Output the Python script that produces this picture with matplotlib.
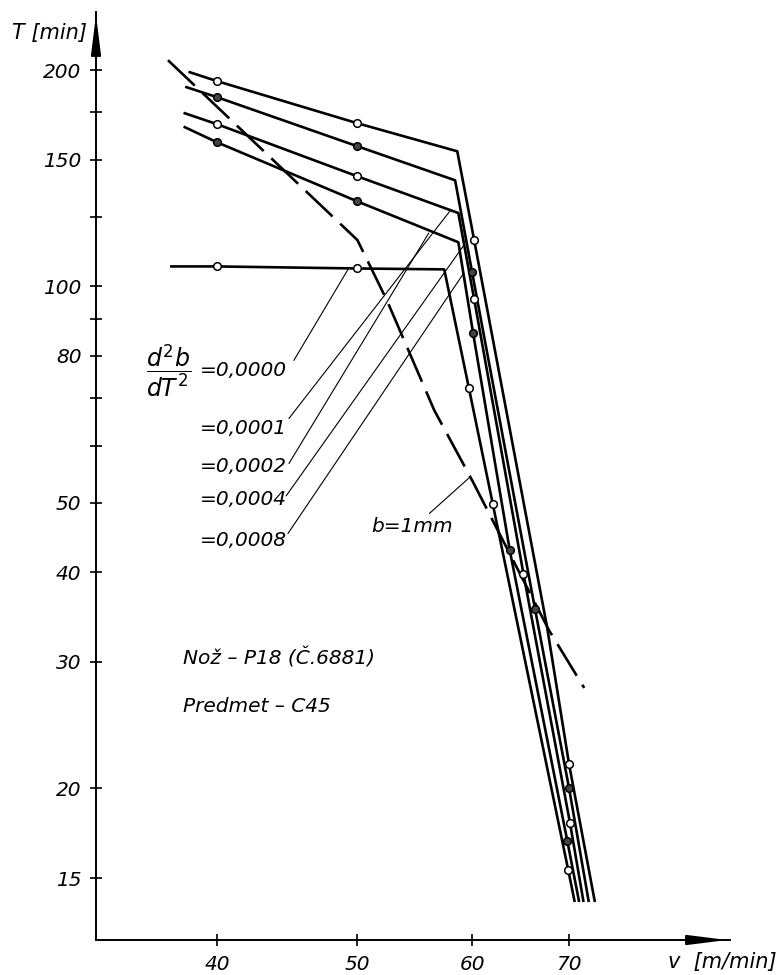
import matplotlib
matplotlib.use("Agg")
import matplotlib.pyplot as plt
from matplotlib.ticker import FixedLocator, NullLocator, NullFormatter, FixedFormatter

plt.rcParams['font.family'] = ['DejaVu Sans']
plt.rcParams['mathtext.fontset'] = 'dejavusans'

# ---------------- data (v [m/min], T [min]) ----------------
v_l1 = [38.3, 40, 50, 58.6, 60.2, 67.6, 70, 72.9]
T_l1 = [198.7, 193.1, 168.7, 154.2, 115.9, 33.5, 21.6, 13.95]
m_l1 = [1, 2, 4, 6]

v_l2 = [38.1, 40, 50, 58.4, 60.0, 66.3, 70, 72.2]
T_l2 = [189.4, 183.4, 156.7, 140.5, 104.6, 35.6, 20.0, 13.95]
m_l2 = [1, 2, 4, 5, 6]

v_l3 = [38.0, 40, 50, 58.7, 60.2, 65.1, 70.1, 71.6]
T_l3 = [174.2, 168.2, 142.3, 126.5, 95.9, 39.8, 17.9, 13.95]
m_l3 = [1, 2, 4, 5, 6]

v_l4 = [38.0, 40, 50, 58.7, 60.1, 63.7, 69.8, 71.1]
T_l4 = [166.6, 158.7, 131.3, 115.2, 86.0, 42.9, 16.9, 13.95]
m_l4 = [1, 2, 4, 5, 6]

v_l5 = [37.2, 40, 50, 57.4, 59.7, 62.0, 69.9, 70.6]
T_l5 = [106.6, 106.6, 105.9, 105.6, 72.1, 49.8, 15.4, 13.95]
m_l5 = [1, 2, 4, 5, 6]

# dashed curve b = 1 mm
v_b = [37.0, 50.0, 52.4, 56.5, 60.0, 67.8, 71.7]
T_b = [206.5, 116.0, 95.6, 67.2, 53.7, 33.2, 27.6]

y_ticks = [200, 150, 100, 80, 50, 40, 30, 20, 15]
y_minor = [175, 125, 90, 70, 60]
x_ticks = [40, 50, 60, 70]

labels = ["=0,0000", "=0,0001", "=0,0002", "=0,0004", "=0,0008"]
# leader lines: (v_start, T_start, v_end, T_end)
leaders = [
    (45.2, 78.9, 49.3, 105.9),
    (44.85, 65.5, 57.9, 127.2),
    (44.85, 56.7, 56.0, 118.6),
    (44.65, 51.1, 59.2, 114.0),
    (44.78, 45.3, 59.2, 104.3),
]
b_leader = (56.07, 48.3, 59.76, 54.2)

# ---------------- figure ----------------
W, H = 782, 975
fig = plt.figure(figsize=(W / 100, H / 100), dpi=100)
x0, x1, y0, y1 = 96, 730, 12, 940
ax = fig.add_axes([x0 / W, 1 - y1 / H, (x1 - x0) / W, (y1 - y0) / H])
ax.set_xscale('log')
ax.set_yscale('log')
ax.set_xlim(33.0, 90.4)
ax.set_ylim(12.3, 241)

for s in ['top', 'right']:
    ax.spines[s].set_visible(False)
for s in ['left', 'bottom']:
    ax.spines[s].set_linewidth(1.4)

ax.yaxis.set_major_locator(FixedLocator(y_ticks))
ax.yaxis.set_major_formatter(FixedFormatter([str(t) for t in y_ticks]))
ax.yaxis.set_minor_locator(FixedLocator(y_minor))
ax.yaxis.set_minor_formatter(NullFormatter())
ax.xaxis.set_major_locator(FixedLocator(x_ticks))
ax.xaxis.set_major_formatter(FixedFormatter([str(t) for t in x_ticks]))
ax.xaxis.set_minor_locator(NullLocator())
ax.tick_params(which='both', direction='inout', length=9, width=1.2)
ax.tick_params(axis='y', labelsize=14.5, pad=6)
ax.tick_params(axis='x', labelsize=14.5, pad=6)
for lab in ax.get_xticklabels() + ax.get_yticklabels():
    lab.set_fontstyle('italic')

# axis arrows
ax.annotate('', xy=(0, 1.0), xytext=(0, 0.965), xycoords='axes fraction',
            arrowprops=dict(arrowstyle='-|>,head_length=2.4,head_width=0.3',
                            color='k', lw=1.4, mutation_scale=10), annotation_clip=False)
ax.annotate('', xy=(1.0, 0), xytext=(0.95, 0), xycoords='axes fraction',
            arrowprops=dict(arrowstyle='-|>,head_length=2.4,head_width=0.3',
                            color='k', lw=1.4, mutation_scale=10), annotation_clip=False)

# curves
series = [(v_l1, T_l1, m_l1, 'white'), (v_l2, T_l2, m_l2, '#444444'),
          (v_l3, T_l3, m_l3, 'white'), (v_l4, T_l4, m_l4, '#444444'),
          (v_l5, T_l5, m_l5, 'white')]
for v, T, m, fc in series:
    ax.plot(v, T, color='k', lw=1.9, solid_joinstyle='round', zorder=3)
    ax.plot([v[i] for i in m], [T[i] for i in m], 'o', ms=5.5, mfc=fc, mec='k',
            mew=1.1, zorder=4)

ax.plot(v_b, T_b, color='k', lw=1.9, dashes=(14, 4), zorder=3)

# leader lines
for (va, Ta, vb, Tb) in leaders:
    ax.plot([va, vb], [Ta, Tb], color='k', lw=0.8, zorder=2)
ax.plot([b_leader[0], b_leader[2]], [b_leader[1], b_leader[3]], color='k', lw=0.8, zorder=2)

def ftext(x, y, s, **kw):
    fig.text(x / W, 1 - y / H, s, **kw)

# axis titles
ftext(12, 33, "T [min]", fontsize=15, style='italic', va='center', ha='left')
ftext(668, 962, "v  [m/min]", fontsize=15, style='italic', va='center', ha='left')

# labels of curves
ftext(169, 371, r"$\dfrac{d^2b}{dT^2}$", fontsize=17, va='center', ha='center')
label_y = [370, 428, 466, 500, 540]
for lab, yy in zip(labels, label_y):
    ftext(287, yy, lab, fontsize=14.5, style='italic', va='center', ha='right')

ftext(412, 527, "b=1mm", fontsize=14.5, style='italic', va='center', ha='center')
ftext(183, 658, "Nož – P18 (Č.6881)", fontsize=14.5, style='italic', va='center', ha='left')
ftext(183, 707, "Predmet – C45", fontsize=14.5, style='italic', va='center', ha='left')

fig.savefig("out.png", dpi=100)
